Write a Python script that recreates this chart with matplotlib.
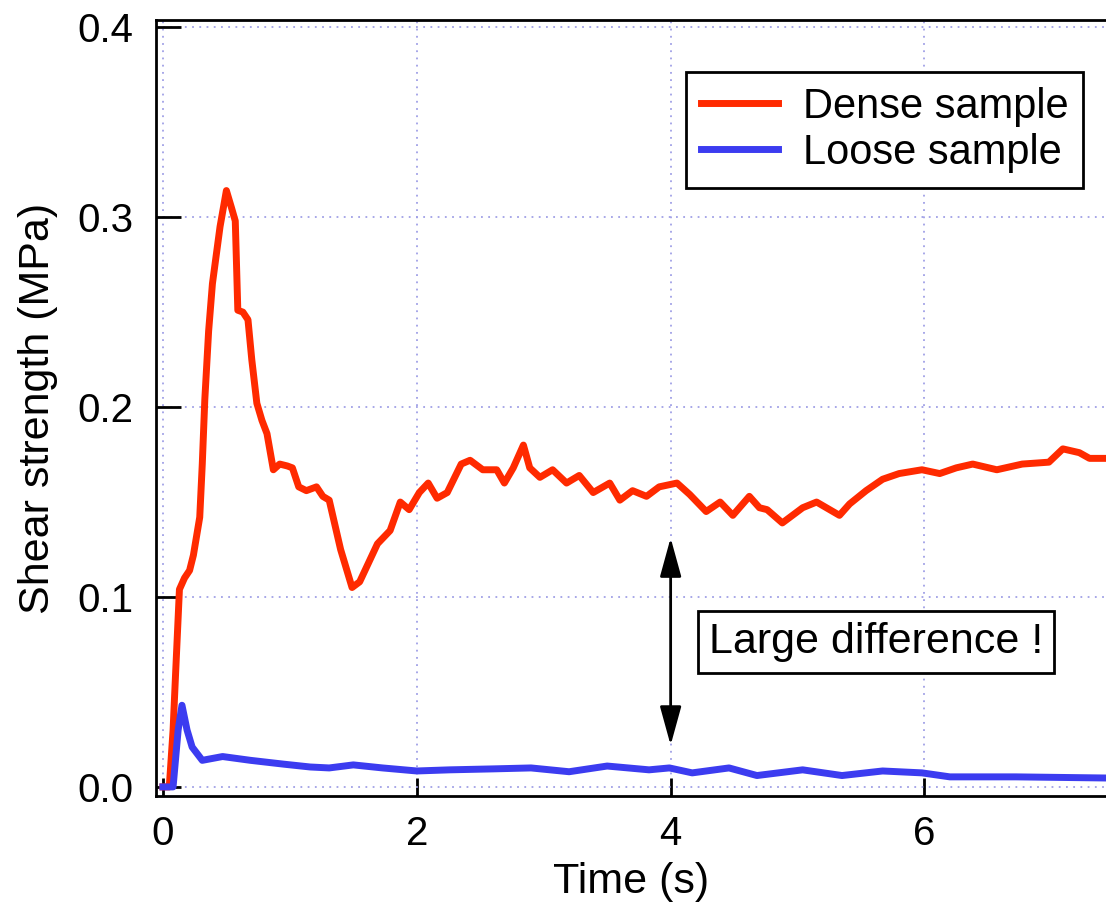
import matplotlib
matplotlib.use('Agg')
import matplotlib.pyplot as plt

plt.rcParams['font.family'] = ['Liberation Sans', 'DejaVu Sans']

# dense sample (red)
dense_t = [0.0, 0.05, 0.08, 0.10, 0.13, 0.17, 0.21, 0.24, 0.29, 0.31, 0.33, 0.36, 0.39, 0.45,
           0.50, 0.54, 0.57, 0.59, 0.63, 0.67, 0.70, 0.74, 0.78, 0.82, 0.87, 0.92, 0.98, 1.02,
           1.07, 1.13, 1.21, 1.26, 1.31, 1.40, 1.49, 1.55, 1.62, 1.69, 1.79, 1.87, 1.94, 2.02,
           2.09, 2.16, 2.24, 2.35, 2.42, 2.52, 2.63, 2.69, 2.76, 2.84, 2.89, 2.97, 3.07, 3.18,
           3.28, 3.39, 3.52, 3.60, 3.70, 3.81, 3.91, 4.05, 4.15, 4.28, 4.39, 4.49, 4.62, 4.70,
           4.76, 4.88, 5.04, 5.15, 5.33, 5.41, 5.54, 5.67, 5.80, 5.98, 6.12, 6.25, 6.38, 6.57,
           6.77, 6.98, 7.09, 7.22, 7.30, 7.43]
dense_v = [0.0, 0.0, 0.03, 0.06, 0.104, 0.110, 0.114, 0.122, 0.142, 0.170, 0.204, 0.240, 0.265, 0.295,
           0.314, 0.305, 0.298, 0.251, 0.250, 0.246, 0.225, 0.202, 0.193, 0.186, 0.167, 0.170, 0.169, 0.168,
           0.158, 0.156, 0.158, 0.153, 0.151, 0.125, 0.105, 0.108, 0.118, 0.128, 0.135, 0.150, 0.146, 0.155,
           0.160, 0.152, 0.155, 0.170, 0.172, 0.167, 0.167, 0.160, 0.168, 0.180, 0.168, 0.163, 0.167, 0.160,
           0.164, 0.155, 0.160, 0.151, 0.156, 0.153, 0.158, 0.160, 0.154, 0.145, 0.150, 0.143, 0.153, 0.147,
           0.146, 0.139, 0.147, 0.150, 0.143, 0.149, 0.156, 0.162, 0.165, 0.167, 0.165, 0.168, 0.170, 0.167,
           0.170, 0.171, 0.178, 0.176, 0.173, 0.173]

# loose sample (blue)
loose_t = [0.0, 0.08, 0.12, 0.15, 0.19, 0.23, 0.31, 0.47, 0.69, 0.95, 1.16, 1.31, 1.50, 1.73,
           2.00, 2.26, 2.60, 2.90, 3.20, 3.50, 3.83, 3.99, 4.17, 4.46, 4.68, 5.04, 5.35, 5.67,
           5.98, 6.20, 6.72, 7.43]
loose_v = [0.0, 0.0, 0.030, 0.043, 0.030, 0.021, 0.014, 0.016, 0.014, 0.012, 0.0105, 0.010, 0.0116, 0.010,
           0.0084, 0.009, 0.0095, 0.010, 0.008, 0.011, 0.009, 0.010, 0.0074, 0.010, 0.006, 0.009, 0.006, 0.0084,
           0.0074, 0.0053, 0.0053, 0.0047]

xticks = [0, 2, 4, 6]
yticks = [0.0, 0.1, 0.2, 0.3, 0.4]

fig = plt.figure(figsize=(11.06, 9.19), dpi=100)
ax = fig.add_axes([0.141, 0.134, 0.859, 0.844])

ax.plot(dense_t, dense_v, color='#ff2a00', lw=5, label='Dense sample', zorder=3)
ax.plot(loose_t, loose_v, color='#3c3cf0', lw=5, label='Loose sample', zorder=3)

ax.set_xlim(-0.055, 7.43)
ax.set_ylim(-0.0047, 0.4037)
ax.set_xticks(xticks)
ax.set_yticks(yticks)
ax.set_xticklabels([str(t) for t in xticks])
ax.set_yticklabels(['%.1f' % t for t in yticks])
ax.grid(True, color='#a0a0e6', linestyle=(0, (1, 3)), lw=1.3)

ax.tick_params(axis='both', direction='in', width=2, labelsize=29)
ax.tick_params(axis='y', length=18, pad=16)
ax.tick_params(axis='x', length=13, pad=14)
for s in ['left', 'top', 'bottom']:
    ax.spines[s].set_linewidth(2)
ax.spines['right'].set_visible(False)

ax.set_xlabel('Time (s)', fontsize=31, labelpad=6)
ax.set_ylabel('Shear strength (MPa)', fontsize=31, labelpad=14)

leg = ax.legend(loc='upper right', bbox_to_anchor=(0.976, 0.933), borderaxespad=0,
                fontsize=30, fancybox=False, framealpha=1, edgecolor='black',
                handlelength=1.85, handletextpad=0.6, labelspacing=0.15,
                borderpad=0.35)
leg.get_frame().set_linewidth(2)

ax.annotate('', xy=(4, 0.0205), xytext=(4, 0.1326),
            arrowprops=dict(arrowstyle='<|-|>,head_length=0.8,head_width=0.22',
                            color='black', lw=2, mutation_scale=30))
ax.text(5.62, 0.0763, 'Large difference !', fontsize=31, ha='center', va='center',
        bbox=dict(boxstyle='square,pad=0.25', facecolor='white', edgecolor='black', lw=2))

fig.savefig('out.png', dpi=100)
